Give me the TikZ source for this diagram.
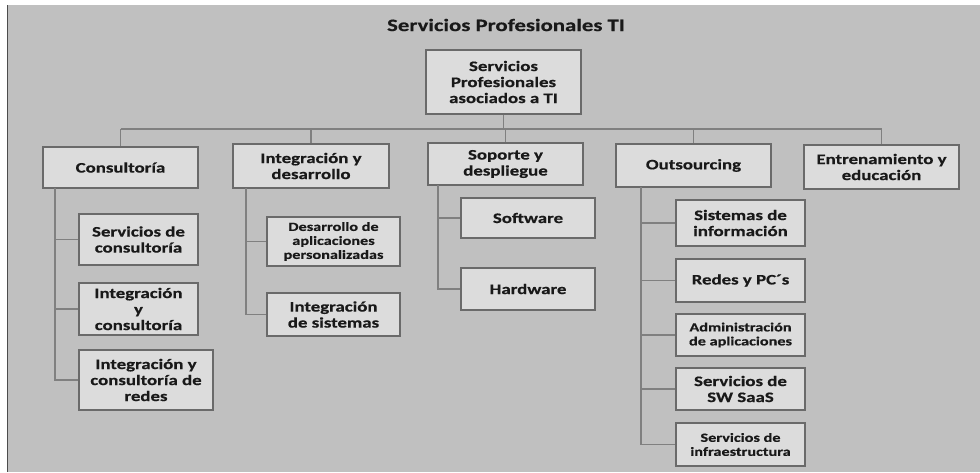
\documentclass[tikz,border=0pt]{standalone}
\usepackage{fontspec}
\setmainfont{Carlito}[FakeStretch=1.2]
\newfontfamily\boxfont{Carlito}[FakeStretch=1.3,BoldFeatures={FakeBold=0.5}]
\definecolor{bg}{HTML}{C0C0C0}
\definecolor{boxfill}{HTML}{DCDCDC}
\definecolor{boxline}{HTML}{6A6A6A}
\definecolor{conn}{HTML}{808080}
\begin{document}
\begin{tikzpicture}[x=1pt,y=-1pt,
  box/.style={draw=boxline, line width=1.4pt, fill=boxfill, align=center,
    inner sep=1pt, font=\boxfont\bfseries\fontsize{14.5}{16}\selectfont, text=black!90},
  smallbox/.style={box, font=\boxfont\bfseries\fontsize{12.5}{14}\selectfont},
  link/.style={draw=conn, line width=1.6pt}]
\useasboundingbox (0,0) rectangle (980,472);
\fill[white] (0,0) rectangle (980,472);
\fill[bg] (7,5) rectangle (980,472);
\draw[black!70, line width=1.5pt] (7.5,5) -- (7.5,472);
\node[font=\boxfont\bfseries\fontsize{17.5}{20}\selectfont, text=black!90] (title) at (506,25) {Servicios Profesionales TI};
% level 0 and 1
\node[box, minimum width=155, minimum height=64] (root) at (503.5,82) {Servicios\\Profesionales\\asociados a TI};
\node[box, minimum width=155, minimum height=41] (cons) at (120.5,167.5) {Consultoría};
\node[box, minimum width=156, minimum height=44] (intd) at (311,166) {Integración y\\desarrollo};
\node[box, minimum width=155, minimum height=42] (sop) at (505.5,164) {Soporte y\\despliegue};
\node[box, minimum width=155, minimum height=43] (out) at (693.5,165.5) {Outsourcing};
\node[box, minimum width=155, minimum height=44] (ent) at (881.5,167) {Entrenamiento y\\educación};
% children
\node[box, minimum width=119, minimum height=51] (c1) at (138.5,239.5) {Servicios de\\consultoría};
\node[box, minimum width=119, minimum height=52] (c2) at (138.5,309) {Integración\\y\\consultoría};
\node[box, minimum width=134, minimum height=60] (c3) at (146,380) {Integración y\\consultoría de\\redes};
\node[smallbox, minimum width=133, minimum height=49] (d1) at (333.5,241.5) {Desarrollo de\\aplicaciones\\personalizadas};
\node[box, minimum width=133, minimum height=43] (d2) at (333.5,314.5) {Integración\\de sistemas};
\node[box, minimum width=134, minimum height=40] (s1) at (528,218) {Software};
\node[box, minimum width=134, minimum height=42] (s2) at (528,289) {Hardware};
\node[box, minimum width=129, minimum height=46] (o1) at (740.5,223) {Sistemas de\\información};
\node[box, minimum width=129, minimum height=43] (o2) at (740.5,280.5) {Redes y PC´s};
\node[smallbox, minimum width=129, minimum height=42] (o3) at (740.5,335) {Administración\\de aplicaciones};
\node[box, minimum width=129, minimum height=42] (o4) at (740.5,389) {Servicios de\\SW SaaS};
\node[smallbox, minimum width=129, minimum height=43] (o5) at (740.5,444.5) {Servicios de\\infraestructura};
% connectors level 1
\coordinate (busL) at (120.5,129);
\coordinate (busR) at (881.5,129);
\draw[link] (busL) -- (busR);
\draw[link] (root.south) -- (root.south |- busL);
\draw[link] (cons.north) -- (cons.north |- busL);
\draw[link] (intd.north) -- (intd.north |- busL);
\draw[link] (sop.north) -- (sop.north |- busL);
\draw[link] (out.north) -- (out.north |- busL);
\draw[link] (ent.north) -- (ent.north |- busL);
% children connectors
\coordinate (cv) at (55,188);
\draw[link] (cv) |- (c1.west);
\draw[link] (cv) |- (c2.west);
\draw[link] (cv) |- (c3.west);
\coordinate (dv) at (246,188);
\draw[link] (dv) |- (d1.west);
\draw[link] (dv) |- (d2.west);
\coordinate (sv) at (438,185);
\draw[link] (sv) |- (s1.west);
\draw[link] (sv) |- (s2.west);
\coordinate (ov) at (641,187);
\draw[link] (ov) |- (o1.west);
\draw[link] (ov) |- (o2.west);
\draw[link] (ov) |- (o3.west);
\draw[link] (ov) |- (o4.west);
\draw[link] (ov) |- (o5.west);
\end{tikzpicture}
\end{document}
